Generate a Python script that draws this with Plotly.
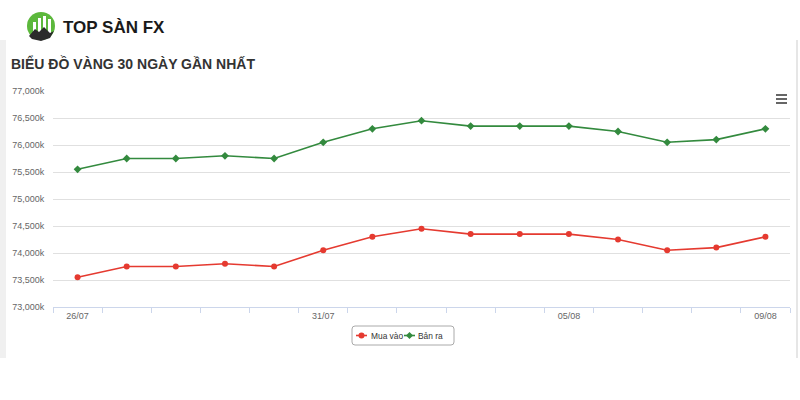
import plotly.graph_objects as go

dates = ["26/07", "27/07", "28/07", "29/07", "30/07", "31/07", "01/08", "02/08",
         "03/08", "04/08", "05/08", "06/08", "07/08", "08/08", "09/08"]
mua_vao = [73550, 73750, 73750, 73800, 73750, 74050, 74300, 74450,
           74350, 74350, 74350, 74250, 74050, 74100, 74300]
ban_ra = [75550, 75750, 75750, 75800, 75750, 76050, 76300, 76450,
          76350, 76350, 76350, 76250, 76050, 76100, 76300]
label_idx = [0, 5, 10, 14]
RED, GREEN = "#e53a30", "#338a3e"

L, R, T, B = 53, 790, 91, 307
W_, H_ = R - L, B - T


def px(x):
    return (x - L) / W_


def py(y):
    return (B - y) / H_


def poly(pts):
    return "M " + " L ".join(f"{px(a)},{py(b)}" for a, b in pts) + " Z"


xs = list(range(len(dates)))
fig = go.Figure()
fig.add_trace(go.Scatter(x=xs, y=mua_vao, name="Mua vào", mode="lines+markers",
                         line=dict(color=RED, width=1.6),
                         marker=dict(symbol="circle", size=6, color=RED)))
fig.add_trace(go.Scatter(x=xs, y=ban_ra, name="Bản ra", mode="lines+markers",
                         line=dict(color=GREEN, width=1.6),
                         marker=dict(symbol="diamond", size=6, color=GREEN)))

shapes = []
# container frame
shapes.append(dict(type="rect", xref="paper", yref="paper", x0=px(0), x1=px(6), y0=py(358), y1=py(40),
                   fillcolor="#f0f0f0", line=dict(width=0), layer="below"))
shapes.append(dict(type="line", xref="paper", yref="paper", x0=px(797), x1=px(797), y0=py(358), y1=py(40),
                   line=dict(color="#e6e6e6", width=2)))
# hamburger
for yy in (95, 99, 103):
    shapes.append(dict(type="line", xref="paper", yref="paper", x0=px(776), x1=px(787), y0=py(yy), y1=py(yy),
                       line=dict(color="#666666", width=2)))
# logo icon
shapes.append(dict(type="circle", xref="paper", yref="paper", x0=px(27), x1=px(55), y0=py(40), y1=py(12),
                   fillcolor="#5cb83c", line=dict(width=0)))
for bx, top in ((33, 22), (38, 18), (43, 16), (48, 19)):
    shapes.append(dict(type="rect", xref="paper", yref="paper", x0=px(bx), x1=px(bx + 3), y0=py(33), y1=py(top),
                       fillcolor="white", line=dict(width=0)))
shapes.append(dict(type="path", xref="paper", yref="paper",
                   path=poly([(29, 36), (35, 29), (39, 32), (44, 27), (50, 33), (54, 31), (50, 38), (41, 41), (32, 39)]),
                   fillcolor="#2b2b2b", line=dict(width=0)))

# custom legend box (rounded)
lx0, lx1, ly0, ly1, rr = 352, 454, 326, 345, 3
lp = (f"M {px(lx0 + rr)},{py(ly0)} L {px(lx1 - rr)},{py(ly0)} "
      f"Q {px(lx1)},{py(ly0)} {px(lx1)},{py(ly0 + rr)} L {px(lx1)},{py(ly1 - rr)} "
      f"Q {px(lx1)},{py(ly1)} {px(lx1 - rr)},{py(ly1)} L {px(lx0 + rr)},{py(ly1)} "
      f"Q {px(lx0)},{py(ly1)} {px(lx0)},{py(ly1 - rr)} L {px(lx0)},{py(ly0 + rr)} "
      f"Q {px(lx0)},{py(ly0)} {px(lx0 + rr)},{py(ly0)} Z")
shapes.append(dict(type="path", xref="paper", yref="paper", path=lp,
                   fillcolor="white", line=dict(color="#aaaaaa", width=1)))
ly = 335.5
rx, gx = 361.5, 409.5
shapes.append(dict(type="line", xref="paper", yref="paper", x0=px(rx - 5.5), x1=px(rx + 5.5), y0=py(ly), y1=py(ly),
                   line=dict(color=RED, width=1.6)))
shapes.append(dict(type="line", xref="paper", yref="paper", x0=px(gx - 5.5), x1=px(gx + 5.5), y0=py(ly), y1=py(ly),
                   line=dict(color=GREEN, width=1.6)))
shapes.append(dict(type="circle", xref="paper", yref="paper", x0=px(rx - 3), x1=px(rx + 3),
                   y0=py(ly + 3), y1=py(ly - 3), fillcolor=RED, line=dict(width=0)))
shapes.append(dict(type="path", xref="paper", yref="paper",
                   path=poly([(gx, ly - 3.5), (gx + 3.5, ly), (gx, ly + 3.5), (gx - 3.5, ly)]),
                   fillcolor=GREEN, line=dict(width=0)))

annotations = [
    dict(text="<b>TOP SÀN FX</b>", xref="paper", yref="paper", x=px(61), y=py(27),
         xanchor="left", yanchor="middle", showarrow=False,
         font=dict(family="Liberation Sans, Arial", size=17, color="#1a1a1a")),
    dict(text="<b>BIỂU ĐỒ VÀNG 30 NGÀY GẦN NHẤT</b>", xref="paper", yref="paper", x=px(9), y=py(63),
         xanchor="left", yanchor="middle", showarrow=False,
         font=dict(family="Liberation Sans, Arial", size=14, color="#333333")),
    dict(text="Mua vào", xref="paper", yref="paper", x=px(369), y=py(ly),
         xanchor="left", yanchor="middle", showarrow=False,
         font=dict(family="Liberation Sans, Arial", size=8.4, color="#333333")),
    dict(text="Bản ra", xref="paper", yref="paper", x=px(416), y=py(ly),
         xanchor="left", yanchor="middle", showarrow=False,
         font=dict(family="Liberation Sans, Arial", size=8.4, color="#333333")),
]

fig.update_layout(
    width=800, height=400,
    margin=dict(l=L, r=800 - R, t=T, b=400 - B),
    paper_bgcolor="white", plot_bgcolor="white",
    font=dict(family="Liberation Sans, Arial", color="#666666", size=9),
    showlegend=False,
    shapes=shapes, annotations=annotations,
    hovermode="x",
)
fig.update_layout(xaxis=dict(range=[-0.5, len(dates) - 0.5], tickmode="array",
                             tickvals=label_idx, ticktext=[dates[i] for i in label_idx],
                             ticks="", showgrid=False, zeroline=False,
                             showline=True, linecolor="#ccd6eb", linewidth=1,
                             tickfont=dict(size=9, color="#666666"),
                             minor=dict(tickmode="linear", tick0=-0.5, dtick=1, ticks="outside",
                                        ticklen=5, tickcolor="#ccd6eb", showgrid=False)),
                  yaxis=dict(range=[73000, 77000], dtick=500, tick0=73000, tickformat=",", ticksuffix="k",
                             showgrid=True, gridcolor="#e0e0e0", gridwidth=1, zeroline=False,
                             ticks="outside", ticklen=6, tickcolor="white",
                             tickfont=dict(size=9, color="#666666")))

fig.write_html("out.html", config={"displayModeBar": False})
